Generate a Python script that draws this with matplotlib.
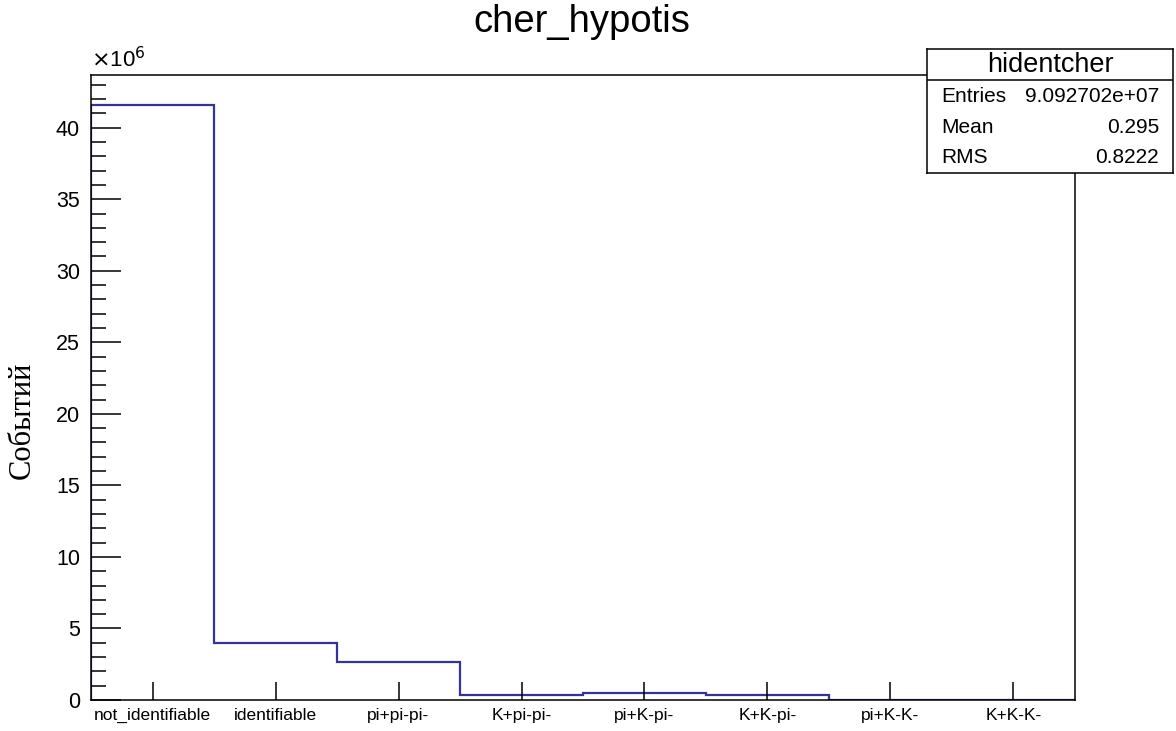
import numpy as np
import matplotlib.pyplot as plt
from matplotlib.ticker import MultipleLocator, FuncFormatter

# Cherenkov hypothesis categories and event counts per bin
categories = ['not_identifiable', 'identifiable', 'pi+pi-pi-', 'K+pi-pi-',
              'pi+K-pi-', 'K+K-pi-', 'pi+K-K-', 'K+K-K-']
counts = [41.6e6, 4.0e6, 2.66e6, 0.35e6, 0.49e6, 0.37e6, 0.0, 0.0]

hist_name = 'hidentcher'
stats_labels = ['Entries', 'Mean', 'RMS']
stats_values = ['9.092702e+07', '0.295', '0.8222']

plt.rcParams['font.family'] = ['Liberation Sans', 'DejaVu Sans']

fig = plt.figure(figsize=(11.76, 7.31), dpi=100)
ax = fig.add_axes([0.0774, 0.0424, 0.8367, 0.855])

edges = np.arange(len(counts) + 1)
ax.stairs(counts, edges, color='#333399', linewidth=1.6)

ax.set_xlim(edges[0], edges[-1])
ax.set_ylim(0, max(counts) * 1.05)

ax.set_xticks(edges[:-1] + 0.5)
ax.set_xticklabels(categories, fontsize=12.5)
ax.tick_params(axis='x', direction='in', length=13, width=1.1, pad=6)

ax.yaxis.set_major_locator(MultipleLocator(5e6))
ax.yaxis.set_minor_locator(MultipleLocator(1e6))
ax.yaxis.set_major_formatter(FuncFormatter(lambda v, p: f'{v / 1e6:g}'))
ax.tick_params(axis='y', which='major', direction='in', length=21.6, width=1.1,
               labelsize=15.5, pad=8)
ax.tick_params(axis='y', which='minor', direction='in', length=10.8, width=1.1)
for s in ax.spines.values():
    s.set_linewidth(1.1)

ax.text(0.0, 1.004, r'$\times$10$^6$', transform=ax.transAxes, fontsize=16,
        ha='left', va='bottom')

fig.text(0.495, 0.970, 'cher_hypotis', fontsize=27.5, ha='center', va='center')
fig.text(0.019, 0.4254, 'Событий', fontsize=22, rotation=90, ha='center',
         va='center', family=['Liberation Serif', 'DejaVu Serif'])

# statistics box
sb = fig.add_axes([0.7883, 0.7633, 0.2092, 0.1696], zorder=5)
sb.set_xticks([])
sb.set_yticks([])
sb.set_xlim(0, 1)
sb.set_ylim(0, 1)
for s in sb.spines.values():
    s.set_linewidth(1.1)
sb.axhline(0.75, color='black', linewidth=1.1)
sb.text(0.5, 0.871, hist_name, fontsize=19.5, ha='center', va='center')
row_y = [0.621, 0.371, 0.129]
for lab, val, y in zip(stats_labels, stats_values, row_y):
    sb.text(0.057, y, lab, fontsize=15, ha='left', va='center')
    sb.text(0.943, y, val, fontsize=15, ha='right', va='center')

fig.savefig('out.png', dpi=100)
